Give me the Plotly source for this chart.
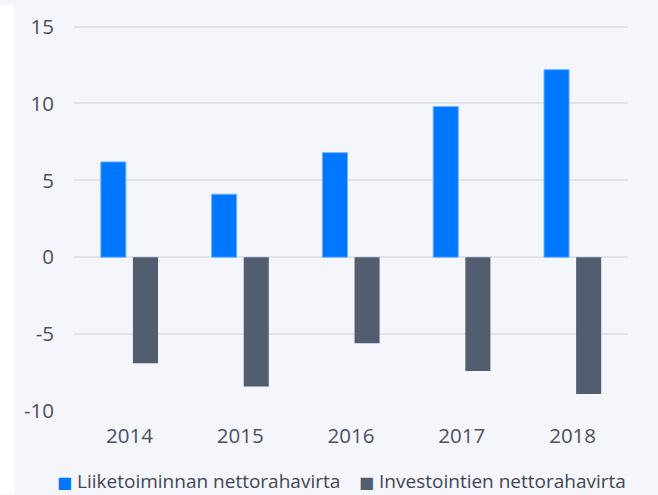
import plotly.graph_objects as go

years = ["2014", "2015", "2016", "2017", "2018"]
liiketoiminta = [6.2, 4.1, 6.8, 9.8, 12.2]
investoinnit = [-6.9, -8.4, -5.6, -7.4, -8.9]
series_names = ["Liiketoiminnan nettorahavirta", "Investointien nettorahavirta"]
y_ticks = [-10, -5, 0, 5, 10, 15]
y_ticktext = ["-10", "-5", "0", "5", "10", "15"]

BLUE = "#0077ff"
GRAY = "#525d70"
BG = "#f5f6fb"
GRID = "#e0e3e9"
TXT = "#4a5163"
FONT = "Open Sans"
FS = 19
TFS = 20.5

ML, MR, MT, MB = 74, 30, 17, 84
PW, PH = 658 - ML - MR, 495 - MT - MB  # plot area in px


def py(px_y):
    return (495 - MB - px_y) / PH


fig = go.Figure()
fig.add_trace(go.Bar(x=years, y=liiketoiminta, name=series_names[0],
                     marker=dict(color=BLUE, line=dict(color="#6fb1ff", width=1))))
fig.add_trace(go.Bar(x=years, y=investoinnit, name=series_names[1],
                     marker=dict(color=GRAY, line=dict(width=0))))

legend_items = [(series_names[0], BLUE, 55), (series_names[1], GRAY, 357)]
annotations = []
for name, col, px in legend_items:
    annotations.append(dict(
        xref="paper", yref="paper", x=(px - ML) / PW, y=py(482),
        xanchor="left", yanchor="middle", showarrow=False,
        text=(f'<span style="color:{col};font-family:DejaVu Sans;font-size:16px">■</span>'
              f' {name}'),
        font=dict(family=FONT, size=FS, color="#3f4656"),
    ))

fig.update_layout(
    width=658, height=495,
    margin=dict(l=ML, r=MR, t=MT, b=MB),
    paper_bgcolor=BG, plot_bgcolor=BG,
    barmode="group", bargap=0.42, bargroupgap=0.22,
    font=dict(family=FONT, size=FS, color=TXT),
    showlegend=False,
    xaxis=dict(showgrid=False, showline=False, zeroline=False, ticks="",
               ticklabelstandoff=10, tickfont=dict(size=TFS, color=TXT)),
    yaxis=dict(range=[-10, 15.3], tickvals=y_ticks, ticktext=y_ticktext,
               showgrid=True, gridcolor=GRID, gridwidth=2, zeroline=True,
               zerolinecolor=GRID, zerolinewidth=2, showline=False,
               ticks="", ticklabelstandoff=19,
               tickfont=dict(size=TFS, color=TXT)),
    annotations=annotations,
    shapes=[dict(type="rect", xref="paper", yref="paper",
                 x0=-ML / PW, x1=(14 - ML) / PW, y0=-MB / PH, y1=1 + MT / PH,
                 fillcolor="#ffffff", line=dict(width=0), layer="below")],
)

fig.write_html("out.html", config={"displayModeBar": False},
               post_script="document.body.style.margin='0';")
